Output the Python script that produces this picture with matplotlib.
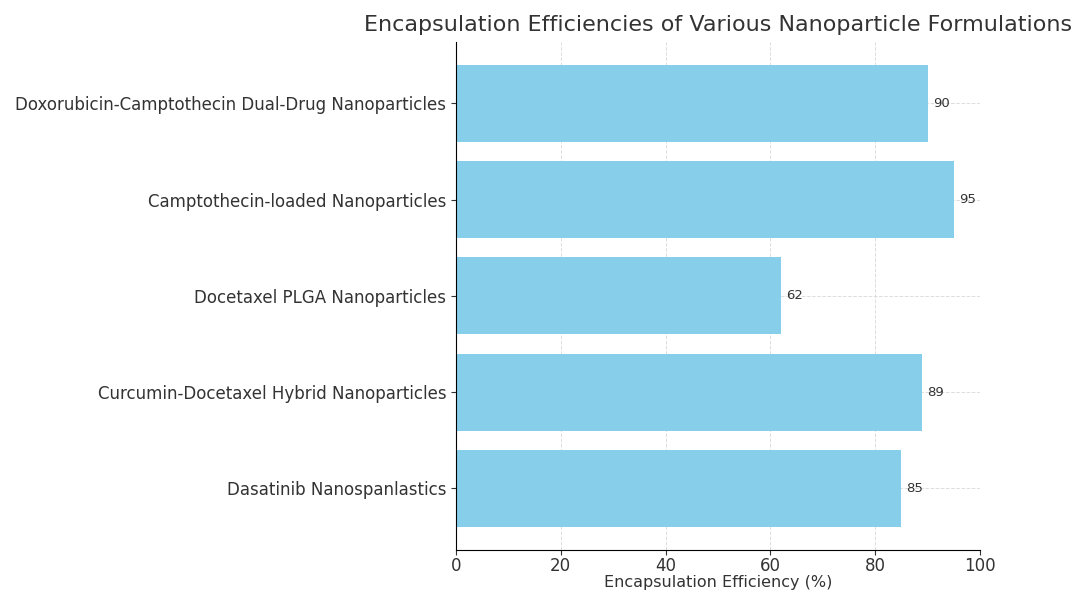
import matplotlib
matplotlib.use("Agg")
import matplotlib.pyplot as plt

formulations = [
    "Dasatinib Nanospanlastics",
    "Curcumin-Docetaxel Hybrid Nanoparticles",
    "Docetaxel PLGA Nanoparticles",
    "Camptothecin-loaded Nanoparticles",
    "Doxorubicin-Camptothecin Dual-Drug Nanoparticles",
]
efficiency = [85, 89, 62, 95, 90]

fig = plt.figure(figsize=(10.78, 5.95), dpi=100)
ax = fig.add_axes([0.423, 0.0756, 0.486, 0.854])

bars = ax.barh(formulations, efficiency, color="skyblue", height=0.8, zorder=2)

# value labels just right of each bar
for bar, val in zip(bars, efficiency):
    ax.text(bar.get_width() + 1, bar.get_y() + bar.get_height() / 2, f"{val}",
            va="center", ha="left", fontsize=9.5, color="#333333")

ax.set_xlim(0, 100)
ax.set_xlabel("Encapsulation Efficiency (%)", fontsize=11.5, labelpad=0, color="#333333")
ax.set_title("Encapsulation Efficiencies of Various Nanoparticle Formulations",
             fontsize=16, color="#333333", pad=8)
ax.tick_params(axis="both", labelsize=12, colors="#333333")
ax.tick_params(axis="x", pad=1.5)
ax.grid(True, linestyle="--", color="#dddddd", linewidth=0.7, zorder=0)
ax.spines["top"].set_visible(False)
ax.spines["right"].set_visible(False)

fig.savefig("out.png", dpi=100)
